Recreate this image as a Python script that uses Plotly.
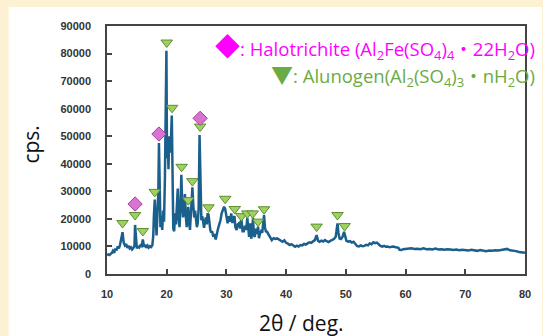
import plotly.graph_objects as go

# ---- XRD pattern ----
two_theta = [
    10.0, 10.2, 10.4, 10.6, 10.8, 11.0, 11.2, 11.4, 11.6, 11.8, 12.0, 12.2, 12.4, 12.6, 12.8,
    13.0, 13.2, 13.4, 13.6, 13.8, 14.0, 14.2, 14.4, 14.6, 14.7, 14.85, 15.0, 15.2, 15.4, 15.6,
    15.8, 16.0, 16.2, 16.4, 16.6, 16.8, 17.0, 17.2, 17.4, 17.6, 17.75, 17.85, 18.0, 18.15, 18.3,
    18.45, 18.6, 18.7, 18.8, 18.95, 19.1, 19.25, 19.4, 19.55, 19.7, 19.85, 19.95, 20.05, 20.15,
    20.3, 20.4, 20.55, 20.7, 20.85, 20.95, 21.1, 21.25, 21.4, 21.55, 21.7, 21.85, 22.0, 22.15,
    22.3, 22.45, 22.6, 22.75, 22.9, 23.05, 23.2, 23.35, 23.5, 23.6, 23.75, 23.9, 24.05, 24.2,
    24.3, 24.45, 24.6, 24.75, 24.9, 25.05, 25.2, 25.35, 25.5, 25.65, 25.8, 25.95, 26.1, 26.25,
    26.4, 26.55, 26.7, 26.85, 27.0, 27.15, 27.3, 27.45, 27.6, 27.8, 28.0, 28.2, 28.4, 28.6,
    28.8, 29.0, 29.2, 29.4, 29.6, 29.8, 30.0, 30.2, 30.4, 30.6, 30.8, 31.0, 31.2, 31.35, 31.5,
    31.7, 31.9, 32.1, 32.3, 32.5, 32.7, 32.9, 33.1, 33.3, 33.5, 33.65, 33.8, 34.0, 34.15, 34.3,
    34.45, 34.6, 34.75, 34.9, 35.1, 35.3, 35.45, 35.6, 35.8, 36.0, 36.2, 36.3, 36.45, 36.6,
    36.8, 37.0, 37.3, 37.6, 37.9, 38.2, 38.5, 38.8, 39.1, 39.4, 39.7, 40.0, 40.3, 40.6, 40.9,
    41.2, 41.5, 41.8, 42.1, 42.4, 42.7, 43.0, 43.3, 43.6, 43.9, 44.2, 44.5, 44.8, 45.1, 45.35,
    45.6, 45.9, 46.2, 46.5, 46.8, 47.1, 47.4, 47.7, 48.0, 48.3, 48.5, 48.6, 48.75, 48.95, 49.2,
    49.45, 49.7, 49.9, 50.1, 50.4, 50.7, 51.0, 51.3, 51.6, 51.9, 52.2, 52.5, 52.8, 53.1, 53.4,
    53.7, 54.0, 54.3, 54.6, 54.9, 55.2, 55.5, 55.8, 56.1, 56.4, 56.7, 57.0, 57.3, 57.6, 57.9,
    58.2, 58.5, 58.8, 59.0, 59.3, 59.6, 60.0, 60.5, 61.0, 61.5, 62.0, 62.5, 63.0, 63.5, 64.0,
    64.5, 65.0, 65.5, 66.0, 66.5, 67.0, 67.5, 68.0, 68.5, 69.0, 69.5, 70.0, 70.5, 71.0, 71.5,
    72.0, 72.5, 73.0, 73.5, 74.0, 74.5, 75.0, 75.5, 76.0, 76.5, 77.0, 77.5, 78.0, 78.5, 79.0,
    79.5, 80.0,
]
cps = [
    6800, 7100, 6900, 7300, 7600, 8400, 7700, 9200, 8600, 10000, 9300, 10800, 12500, 15200, 11400,
    10400, 10900, 9500, 10200, 9300, 9700, 8900, 9400, 10200, 17800, 10800, 9300, 9900, 9600, 10400,
    10100, 12500, 9900, 10600, 9500, 10300, 9600, 10100, 9800, 10500, 14000, 21000, 27000, 20000, 14000,
    22000, 30000, 47500, 26000, 17000, 21000, 16000, 23000, 19000, 35000, 55000, 81000, 42000, 49000,
    38000, 50000, 44000, 48000, 57500, 30000, 16500, 15500, 22000, 18000, 26000, 31000, 20000, 17000,
    24000, 36000, 25000, 20500, 25000, 29000, 21000, 17000, 20000, 24400, 19000, 16000, 22000, 27000,
    31500, 25000, 20500, 23000, 19000, 17000, 18500, 24000, 50400, 30000, 19500, 21000, 17500, 16800,
    19000, 20500, 18000, 22000, 21500, 17000, 16000, 15000, 15500, 13500, 14500, 12500, 15000, 16500,
    18000, 19500, 22000, 23000, 24400, 23500, 20800, 18400, 21000, 19000, 22000, 18500, 20500, 21000, 17000,
    16000, 18000, 18400, 16500, 20000, 15500, 15500, 17500, 16000, 20300, 14500, 13500, 18400, 12800, 15000,
    20300, 14000, 13500, 16500, 14500, 17200, 13000, 14500, 15500, 15000, 18000, 21400, 17000, 15500,
    15300, 14500, 13500, 12300, 13000, 12700, 12900, 12500, 12000, 11700, 12200, 11300, 11000, 10500, 10800,
    10200, 9900, 10300, 10000, 10500, 10400, 10900, 10700, 11100, 11500, 11300, 11800, 12300, 14100, 12000,
    11700, 12100, 11800, 12300, 11900, 11600, 12000, 12300, 12700, 13500, 16000, 18400, 15000, 12900, 12700,
    13500, 15300, 13500, 12000, 11700, 11900, 11400, 11700, 10900, 10100, 10000, 10400, 10100, 10200, 10600,
    10400, 11100, 10800, 11500, 11200, 11400, 10700, 10200, 9900, 10200, 9900, 10000, 9700, 9800, 10000,
    9800, 9700, 9500, 8800, 8700, 9000, 9100, 9000, 9300, 9100, 9200, 9000, 9300, 9000, 9100,
    8900, 9200, 8900, 9000, 8800, 9000, 8900, 8700, 8900, 8600, 8800, 8700, 8500, 8800, 8600,
    8400, 8700, 8500, 8300, 8500, 8400, 8600, 8500, 8700, 8800, 9100, 8600, 8500, 8300, 8000,
    7800, 7700,
]

# ---- phase markers ----
alunogen_x = [12.6, 14.7, 16.0, 18.0, 20.0, 20.9, 22.5, 23.6, 24.3, 25.6, 27.0,
              29.8, 31.4, 32.5, 33.5, 34.4, 35.3, 36.3, 45.1, 48.6, 49.8]
alunogen_y = [18500, 21400, 15600, 29800, 84000, 60300, 38900, 26800, 33700, 53500, 24200,
              27300, 23600, 21000, 22000, 22000, 19000, 23500, 17200, 21400, 17400]
halotrichite_x = [14.7, 18.7, 25.6]
halotrichite_y = [25400, 50800, 56500]

x_ticks = [10, 20, 30, 40, 50, 60, 70, 80]
y_ticks = [0, 10000, 20000, 30000, 40000, 50000, 60000, 70000, 80000, 90000]

legend_halo = ("<span style='font-size:25px'>◆</span>: Halotrichite "
               "(Al<sub>2</sub>Fe(SO<sub>4</sub>)<sub>4</sub>・22H<sub>2</sub>O)")
legend_alu = ("<span style='font-size:22px'>▼</span>: Alunogen"
              "(Al<sub>2</sub>(SO<sub>4</sub>)<sub>3</sub>・nH<sub>2</sub>O)")

fig = go.Figure()
fig.add_trace(go.Scatter(x=two_theta, y=cps, mode="lines",
                         line=dict(color="#1b5f8c", width=2.5), hoverinfo="skip"))
fig.add_trace(go.Scatter(x=alunogen_x, y=alunogen_y, mode="markers",
                         marker=dict(symbol="triangle-down", size=10, color="#9fd062",
                                     line=dict(color="#5d8f30", width=1))))
fig.add_trace(go.Scatter(x=halotrichite_x, y=halotrichite_y, mode="markers",
                         marker=dict(symbol="diamond", size=11, color="#d873d2",
                                     line=dict(color="#a1409e", width=1))))

L, R, T, B = 107, 15, 26, 62
W, H = 543, 336
pw, ph = W - L - R, H - T - B

def px(x):
    return (x - L) / pw

def py(y):
    return (H - B - y) / ph

fig.add_shape(type="rect", xref="paper", yref="paper",
              x0=px(8), x1=px(545), y0=py(340), y1=py(7),
              fillcolor="white", line=dict(width=0), layer="below")

axis_common = dict(showline=True, linecolor="#444444", linewidth=1.5, mirror=True,
                   ticks="inside", ticklen=5, tickcolor="#444444", tickwidth=1.5,
                   showgrid=False, zeroline=False,
                   tickfont=dict(family="Liberation Sans, Arial", size=11, color="#333333",
                                 weight="bold"))

fig.update_xaxes(range=[10, 80], tickvals=x_ticks, ticklabelstandoff=9, **axis_common)
fig.update_yaxes(range=[0, 90000], tickvals=y_ticks, tickformat="d",
                 ticklabelstandoff=12, **axis_common)

fig.add_annotation(text="cps.", xref="paper", yref="paper", x=px(30), y=py(145),
                   textangle=-90, showarrow=False, xanchor="center", yanchor="middle",
                   font=dict(family="Open Sans, Noto Sans", size=21, color="#111111"))
fig.add_annotation(text="2θ / deg.", xref="paper", yref="paper", x=px(303), y=py(323),
                   showarrow=False, xanchor="center", yanchor="middle",
                   font=dict(family="Open Sans, Noto Sans", size=21, color="#111111"))
fig.add_annotation(text=legend_halo, xref="paper", yref="paper", x=px(540), y=py(46),
                   showarrow=False, xanchor="right", yanchor="middle",
                   font=dict(family="Open Sans, Noto Sans, Noto Sans CJK JP", size=18.5,
                             color="#ff00ff"))
fig.add_annotation(text=legend_alu, xref="paper", yref="paper", x=px(540), y=py(75),
                   showarrow=False, xanchor="right", yanchor="middle",
                   font=dict(family="Open Sans, Noto Sans, Noto Sans CJK JP", size=18.5,
                             color="#6aab45"))

fig.update_layout(width=W, height=H, margin=dict(l=L, r=R, t=T, b=B),
                  paper_bgcolor="#fdf1d3", plot_bgcolor="white", showlegend=False)

fig.write_html("out.html", config={"displayModeBar": False},
               post_script="document.body.style.margin='0px';"
                           "document.body.style.overflow='hidden';")
